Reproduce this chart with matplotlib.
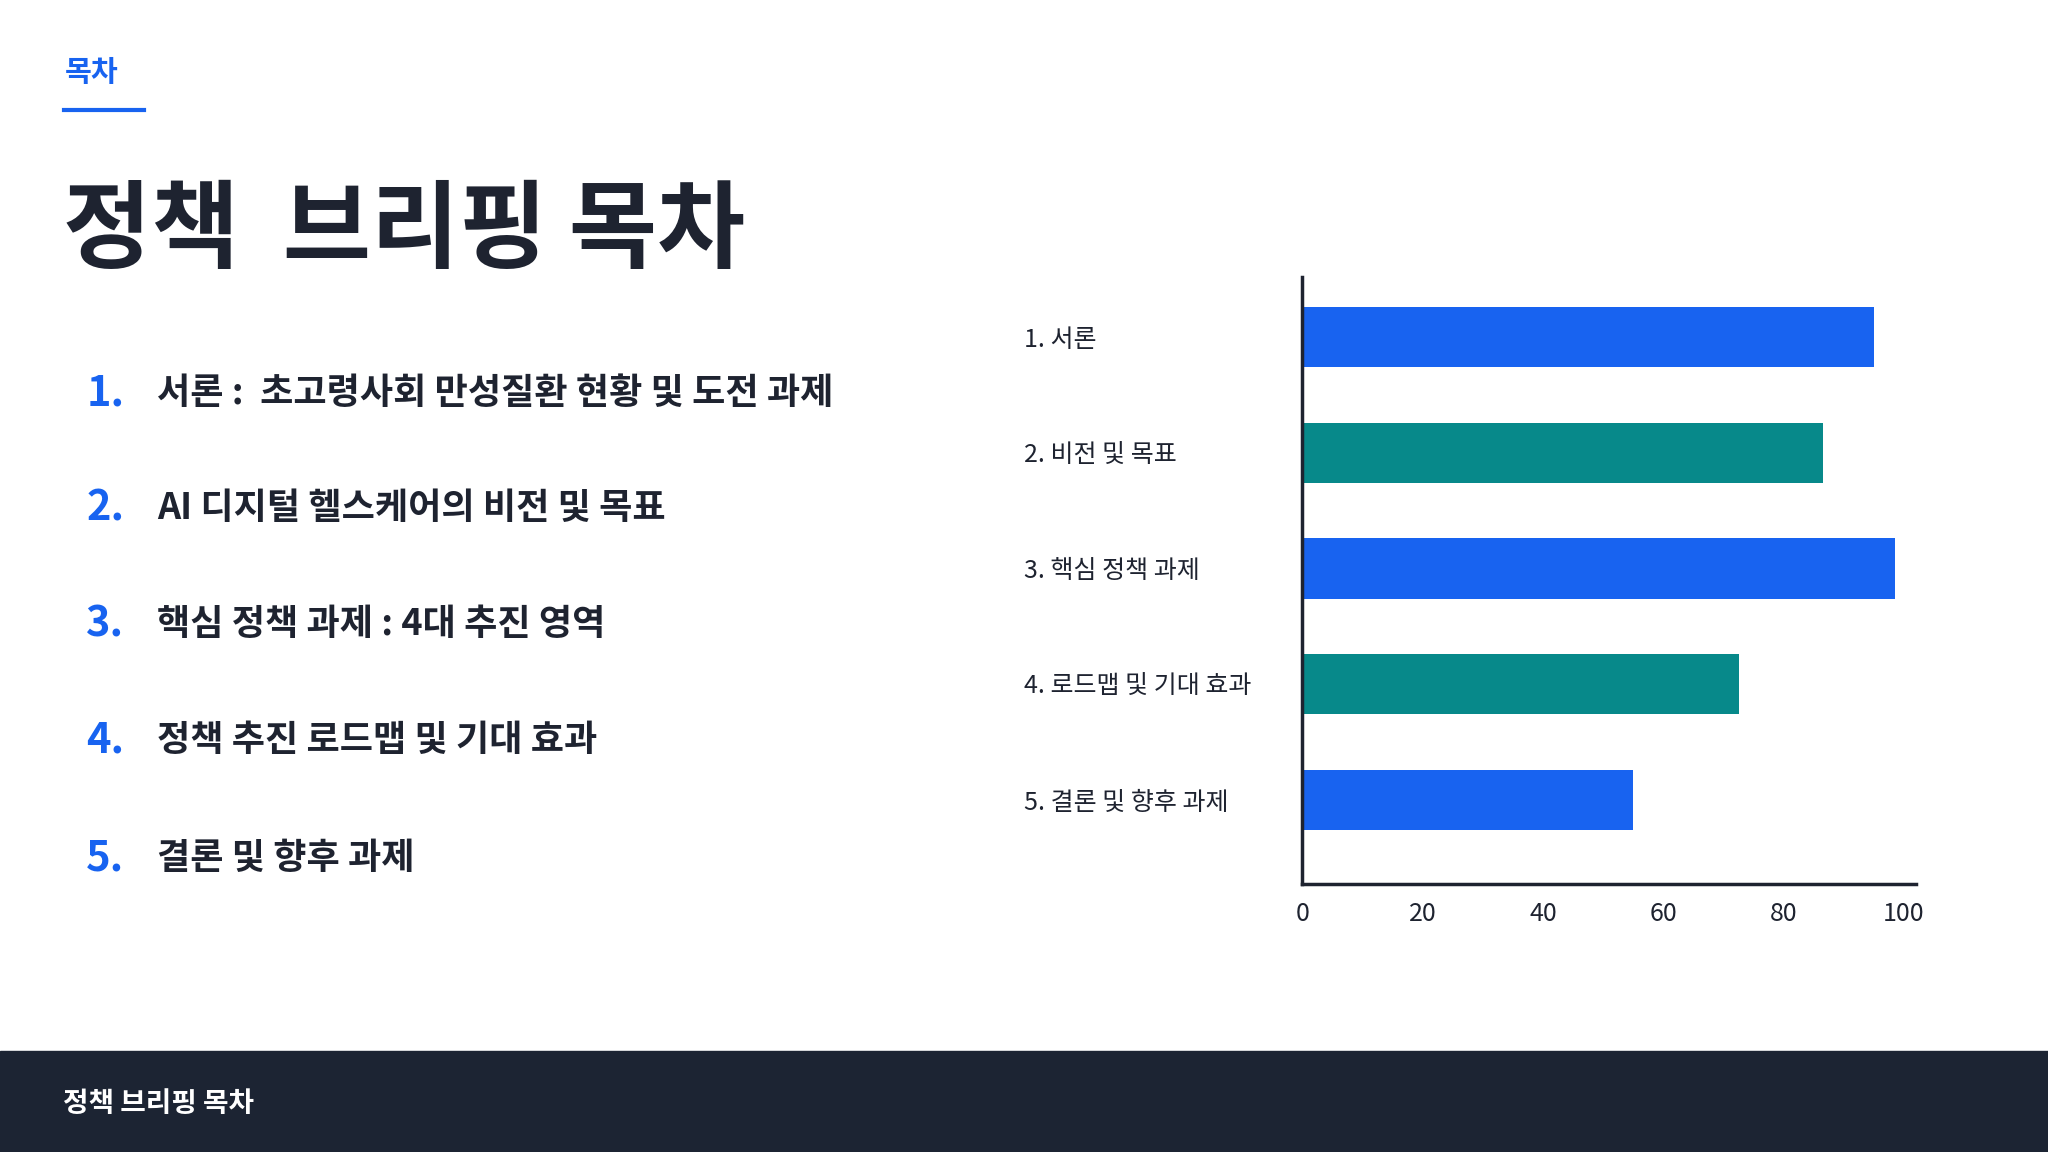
import matplotlib
matplotlib.use("Agg")
import matplotlib.pyplot as plt
from matplotlib.patches import Rectangle

plt.rcParams["font.family"] = ["Noto Sans CJK KR", "DejaVu Sans"]

BLUE = "#1863F0"
TEAL = "#07898A"
DARK = "#1E2330"
NAVY = "#1C2433"

categories = ["1. 서론", "2. 비전 및 목표", "3. 핵심 정책 과제", "4. 로드맵 및 기대 효과", "5. 결론 및 향후 과제"]
values = [95, 86.5, 98.5, 72.5, 55]
bar_colors = [BLUE, TEAL, BLUE, TEAL, BLUE]
x_ticks = [0, 20, 40, 60, 80, 100]

toc_numbers = ["1.", "2.", "3.", "4.", "5."]
toc_items = [
    "서론 :  초고령사회 만성질환 현황 및 도전 과제",
    "AI 디지털 헬스케어의 비전 및 목표",
    "핵심 정책 과제 : 4대 추진 영역",
    "정책 추진 로드맵 및 기대 효과",
    "결론 및 향후 과제",
]

W, H = 1568, 882  # reference layout units
fig = plt.figure(figsize=(20.48, 11.52), dpi=100)
fig.patch.set_facecolor("white")


def fx(x):
    return x / W


def fy(y):
    return 1 - y / H


# header
fig.text(fx(50), fy(55), "목차", color=BLUE, fontsize=21, fontweight="bold", va="center")
fig.add_artist(plt.Line2D([fx(49), fx(110)], [fy(84), fy(84)], color=BLUE, lw=3))
fig.text(fx(48), fy(178), "정책  브리핑 목차", color=DARK, fontsize=69, fontweight="black", va="center")

# table of contents
ys = [301, 389, 478, 567, 657]
for num, item, y in zip(toc_numbers, toc_items, ys):
    fig.text(fx(66), fy(y), num, color=BLUE, fontsize=30, fontweight="bold", va="center")
    fig.text(fx(120), fy(y), item, color=DARK, fontsize=26, fontweight="bold", va="center")

# footer
fig.add_artist(Rectangle((0, 0), 1, 1 - 805 / H, transform=fig.transFigure, color=NAVY, zorder=0))
fig.text(fx(48), fy(845), "정책 브리핑 목차", color="white", fontsize=20, fontweight="bold", va="center")

# chart
ax = fig.add_axes([fx(997), fy(677), fx(470), (677 - 212) / H])
ax.barh(range(len(values)), values, height=0.52, color=bar_colors)
ax.set_xlim(0, 102)
ax.set_ylim(4.73, -0.52)
ax.set_yticks(range(len(categories)), categories)
ax.set_xticks(x_ticks)
ax.tick_params(axis="x", length=0, labelsize=18, colors=DARK, pad=12)
ax.tick_params(axis="y", length=0, labelsize=18, colors=DARK, pad=200)
for lab in ax.get_yticklabels():
    lab.set_horizontalalignment("left")
for s in ["top", "right"]:
    ax.spines[s].set_visible(False)
for s in ["left", "bottom"]:
    ax.spines[s].set_linewidth(2.5)
    ax.spines[s].set_color(DARK)

fig.savefig("out.png", dpi=100)
